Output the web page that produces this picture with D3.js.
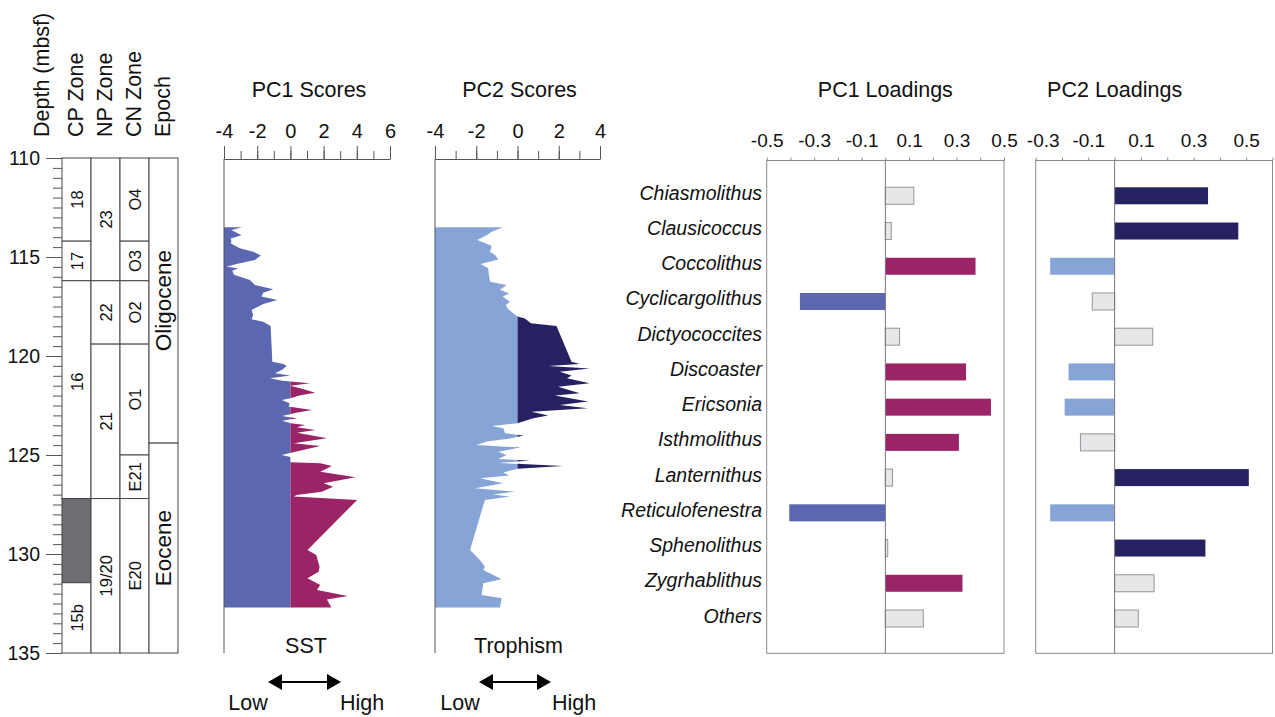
<!DOCTYPE html>
<html>
<head>
<meta charset="utf-8">
<script src="https://cdn.jsdelivr.net/npm/d3@7"></script>
<style>
  body { margin: 0; background: #fff; }
  svg { font-family: "Liberation Sans", Arial, sans-serif; }
</style>
</head>
<body>
<script>
// ---- data ----
const depthTicks = [110, 115, 120, 125, 130, 135];

// [label, top depth, base depth, (optional label depth)]
const cpZones = [["18", 110, 114.2], ["17", 114.2, 116.2], ["16", 116.2, 127.2, 121.3], ["", 127.2, 131.45], ["15b", 131.45, 135]];
const npZones = [["23", 110, 116.2], ["22", 116.2, 119.4], ["21", 119.4, 127.2], ["19/20", 127.2, 135]];
const cnZones = [["O4", 110, 114.2], ["O3", 114.2, 116.2], ["O2", 116.2, 119.4], ["O1", 119.4, 125], ["E21", 125, 127.2], ["E20", 127.2, 135]];
const epochs = [["Oligocene", 110, 124.4], ["Eocene", 124.4, 135]];
const columnHeaders = ["CP Zone", "NP Zone", "CN Zone", "Epoch"];

// PC1 scores down core
const pc1Depth = [113.5, 113.64, 113.9, 114.06, 114.2, 114.3, 114.56, 114.73, 114.93, 115.15, 115.35, 115.49, 115.57, 115.69, 115.9,
  116.16, 116.41, 116.63, 116.8, 117.0, 117.17, 117.37, 117.68, 117.93, 118.15, 118.27, 118.48, 120.29, 120.4, 120.5,
  120.7, 120.87, 120.99, 121.13, 121.25, 121.38, 121.5, 121.63, 121.85, 121.98, 122.14, 122.22, 122.39, 122.56, 122.73,
  122.87, 123.03, 123.15, 123.27, 123.4, 123.48, 123.6, 123.74, 123.87, 124.16, 124.41, 124.55, 124.83, 125.0, 125.1,
  125.36, 125.42, 125.56, 125.84, 126.13, 126.43, 126.6, 126.85, 127.02, 127.1, 127.27, 129.8, 130.05, 130.64, 130.9,
  131.23, 131.57, 131.82, 132.12, 132.3, 132.7];
const pc1Score = [-2.9, -3.55, -2.95, -3.6, -3.55, -3.6, -3.05, -2.24, -1.78, -2.14, -3.25, -3.85, -3.15, -3.5, -3.4,
  -2.44, -2.14, -1.03, -1.64, -1.74, -0.79, -1.64, -2.34, -2.24, -2.34, -1.64, -1.19, -1.09, -0.42, -0.22,
  -0.5, -0.93, 0, -1.23, -0.5, 1.19, 0, 0.59, 1.5, 0.6, 0, -0.52, -0.05, -0.1, 1.3,
  0.35, -0.5, 0.4, -0.5, 0.03, 0.89, 0.4, 1.5, 0.4, 2.2, 0.2, 1.8, 0.3, -0.52, 0,
  0, 1.8, 2.5, 1.8, 3.92, 2.0, 2.57, 1.9, 0.38, 0.2, 4.02, 1.03, 1.56, 1.76, 1.7,
  1.03, 1.8, 1.6, 3.45, 2.2, 2.47];

// PC2 scores down core
const pc2Depth = [113.5, 113.72, 113.9, 114.14, 114.43, 114.73, 114.9, 115.12, 115.35, 115.57, 115.8, 116.25, 116.41, 116.66, 116.84,
  117.0, 117.26, 117.43, 117.6, 117.85, 118.01, 118.1, 118.35, 118.48, 120.29, 120.4, 120.5, 120.63, 120.8, 120.98,
  121.13, 121.38, 121.55, 121.88, 122.0, 122.3, 122.47, 122.64, 122.81, 123.0, 123.15, 123.4, 123.53, 123.65, 123.9,
  124.02, 124.16, 124.32, 124.5, 124.62, 124.84, 125.0, 125.2, 125.28, 125.4, 125.56, 125.7, 125.88, 126.04, 126.18,
  126.43, 126.68, 126.85, 127.0, 127.1, 127.27, 129.8, 130.3, 130.64, 130.81, 131.28, 131.48, 132.07, 132.24, 132.7];
const pc2Score = [-0.72, -1.25, -1.5, -1.95, -1.25, -1.33, -1.09, -0.93, -1.79, -1.42, -1.4, -1.33, -0.53, -0.85, -0.4,
  -0.72, -0.37, -0.56, -0.48, -0.2, 0, 0.36, 0.65, 1.89, 2.62, 3.02, 1.49, 3.5, 2.05, 2.62,
  2.4, 3.5, 1.97, 3.02, 1.81, 3.42, 2.05, 3.42, 0.68, 1.49, 0.76, 0, -1.25, -0.69, -0.6,
  0.28, -0.29, -1.5, -1.98, 0.12, -0.93, -0.53, -0.93, 0.6, -0.93, 2.21, 0, -0.69, -0.4, -1.82,
  -0.69, -2.06, -0.13, -1.18, -0.37, -1.58, -2.3, -1.82, -1.58, -1.66, -0.77, -1.66, -1.74, -0.77, -0.85];

// loadings
const taxa = ["Chiasmolithus", "Clausicoccus", "Coccolithus", "Cyclicargolithus", "Dictyococcites", "Discoaster", "Ericsonia",
  "Isthmolithus", "Lanternithus", "Reticulofenestra", "Sphenolithus", "Zygrhablithus", "Others"];
const pc1Loadings = [0.12, 0.025, 0.38, -0.36, 0.06, 0.34, 0.445, 0.31, 0.03, -0.405, 0.01, 0.325, 0.16];
const pc1Groups = ["minor", "minor", "warm", "cold", "minor", "warm", "warm", "warm", "minor", "cold", "minor", "warm", "minor"];
const pc2Loadings = [0.355, 0.47, -0.245, -0.085, 0.145, -0.175, -0.19, -0.13, 0.51, -0.245, 0.345, 0.15, 0.09];
const pc2Groups = ["eutrophic", "eutrophic", "oligotrophic", "minor", "minor", "oligotrophic", "oligotrophic", "minor", "eutrophic", "oligotrophic", "eutrophic", "minor", "minor"];

const pc1Ticks = [-4, -2, 0, 2, 4, 6];
const pc2Ticks = [-4, -2, 0, 2, 4];
const pcl1Ticks = [-0.5, -0.3, -0.1, 0.1, 0.3, 0.5];
const pcl2Ticks = [-0.3, -0.1, 0.1, 0.3, 0.5];

// ---- colours ----
const colors = {
  cold: "#5b67b0", warm: "#9b2467", oligotrophic: "#87a4d6", eutrophic: "#262262", minor: "#e6e7e8"
};
const lineCol = "#555";

const svg = d3.select("body").append("svg")
  .attr("width", 1275).attr("height", 717);

// depth scale shared by the strat column and the score panels
const y = d3.scaleLinear().domain([110, 135]).range([158, 653]);

/* ---------- stratigraphic columns ---------- */
const colX = [62, 91, 120, 149, 178];

svg.append("g")
  .attr("transform", "translate(62,0)")
  .call(d3.axisLeft(y).tickValues(d3.range(110, 135.01, 0.5)).tickSize(9).tickFormat(""))
  .call(g => g.select(".domain").remove())
  .call(g => g.selectAll("line").attr("stroke", lineCol));

svg.append("g")
  .attr("transform", "translate(62,0)")
  .call(d3.axisLeft(y).tickValues(depthTicks).tickSize(16).tickPadding(6).tickFormat(d => d))
  .call(g => g.select(".domain").remove())
  .call(g => g.selectAll("line").attr("stroke", lineCol))
  .call(g => g.selectAll("text").attr("font-size", 19.5).attr("fill", "#111").attr("font-family", "Liberation Sans, Arial, sans-serif"));

function drawColumn(zones, i, fontSize) {
  const g = svg.append("g");
  const cells = g.selectAll("g").data(zones).enter().append("g");
  cells.append("rect")
    .attr("x", colX[i]).attr("width", colX[i + 1] - colX[i])
    .attr("y", d => y(d[1])).attr("height", d => y(d[2]) - y(d[1]))
    .attr("fill", d => d[0] === "" ? "#6d6e71" : "#fff")
    .attr("stroke", "#444").attr("stroke-width", 1);
  cells.append("text")
    .attr("transform", d => {
      const cy = y(d[3] !== undefined ? d[3] : (d[1] + d[2]) / 2);
      return "translate(" + ((colX[i] + colX[i + 1]) / 2) + "," + cy + ") rotate(-90)";
    })
    .attr("text-anchor", "middle")
    .attr("dominant-baseline", "central")
    .attr("font-size", fontSize)
    .attr("fill", "#111")
    .text(d => d[0]);
}
drawColumn(cpZones, 0, 16.5);
drawColumn(npZones, 1, 16.5);
drawColumn(cnZones, 2, 16.5);
drawColumn(epochs, 3, 22.5);

// column headers
const headers = ["Depth (mbsf)"].concat(columnHeaders);
const headerX = [42, 76, 105, 134, 163];
svg.selectAll(".hdr").data(headers).enter().append("text")
  .attr("class", "hdr")
  .attr("transform", (d, i) => "translate(" + headerX[i] + ",137) rotate(-90)")
  .attr("dominant-baseline", "central")
  .attr("font-size", 21.5)
  .attr("fill", "#111")
  .text(d => d);

/* ---------- score panels ---------- */
function scorePanel(opts) {
  const x = d3.scaleLinear().domain(opts.domain).range(opts.range);
  const g = svg.append("g");
  const id = opts.id;

  const pts = opts.depth.map((d, i) => [d, opts.score[i]]);
  const area = d3.area()
    .y(d => y(d[0]))
    .x0(x(opts.domain[0]))
    .x1(d => x(d[1]));

  const defs = g.append("defs");
  defs.append("clipPath").attr("id", id + "neg").append("rect")
    .attr("x", x(opts.domain[0])).attr("y", 0).attr("width", x(0) - x(opts.domain[0])).attr("height", 717);
  defs.append("clipPath").attr("id", id + "pos").append("rect")
    .attr("x", x(0)).attr("y", 0).attr("width", 400).attr("height", 717);

  g.append("path").datum(pts).attr("d", area)
    .attr("fill", opts.neg).attr("clip-path", "url(#" + id + "neg)");
  g.append("path").datum(pts).attr("d", area)
    .attr("fill", opts.pos).attr("clip-path", "url(#" + id + "pos)");

  // axes
  g.append("g").attr("transform", "translate(0,159)")
    .call(d3.axisTop(x).tickValues(d3.range(opts.domain[0], opts.domain[1] + 0.1, 1)).tickSize(8).tickFormat("").tickSizeOuter(0))
    .call(a => a.select(".domain").remove())
    .call(a => a.selectAll("line").attr("stroke", lineCol));
  g.append("g").attr("transform", "translate(0,159)")
    .call(d3.axisTop(x).tickValues(opts.ticks).tickSize(13).tickSizeOuter(0).tickPadding(8).tickFormat(d => String(d)))
    .call(a => a.select(".domain").attr("stroke", lineCol))
    .call(a => a.selectAll("line").attr("stroke", lineCol))
    .call(a => a.selectAll("text").attr("font-size", 20).attr("fill", "#111").attr("font-family", "Liberation Sans, Arial, sans-serif"));

  g.append("line")
    .attr("x1", x(opts.domain[0])).attr("x2", x(opts.domain[0]))
    .attr("y1", 159).attr("y2", 653)
    .attr("stroke", lineCol);

  const cx = (opts.range[0] + opts.range[1]) / 2;
  g.append("text").attr("x", cx + opts.titleDx).attr("y", 97)
    .attr("text-anchor", "middle").attr("font-size", 21.5).attr("fill", "#111").text(opts.title);
  g.append("text").attr("x", cx + opts.labelDx).attr("y", 653)
    .attr("text-anchor", "middle").attr("font-size", 21.5).attr("fill", "#111").text(opts.label);

  // low / high arrow
  const ay = 682, ax0 = opts.arrow[0], ax1 = opts.arrow[1];
  g.append("line").attr("x1", ax0 + 10).attr("x2", ax1 - 10).attr("y1", ay).attr("y2", ay)
    .attr("stroke", "#000").attr("stroke-width", 2);
  g.append("path").attr("d", "M" + ax0 + "," + ay + "l14,-8v16z").attr("fill", "#000");
  g.append("path").attr("d", "M" + ax1 + "," + ay + "l-14,-8v16z").attr("fill", "#000");
  g.append("text").attr("x", opts.lowHigh[0]).attr("y", 710)
    .attr("text-anchor", "middle").attr("font-size", 21.5).attr("fill", "#111").text("Low");
  g.append("text").attr("x", opts.lowHigh[1]).attr("y", 710)
    .attr("text-anchor", "middle").attr("font-size", 21.5).attr("fill", "#111").text("High");
}

scorePanel({
  id: "pc1", domain: [-4, 6], range: [224, 390], ticks: pc1Ticks,
  depth: pc1Depth, score: pc1Score, neg: colors.cold, pos: colors.warm,
  title: "PC1 Scores", titleDx: 2, label: "SST", labelDx: -1,
  arrow: [268, 341], lowHigh: [248, 362]
});
scorePanel({
  id: "pc2", domain: [-4, 4], range: [435, 600], ticks: pc2Ticks,
  depth: pc2Depth, score: pc2Score, neg: colors.oligotrophic, pos: colors.eutrophic,
  title: "PC2 Scores", titleDx: 2, label: "Trophism", labelDx: 1,
  arrow: [479, 551], lowHigh: [460, 574]
});

/* ---------- loadings panels ---------- */
const frameTop = 160.5, frameBottom = 653.3;
const yb = d3.scalePoint().domain(taxa).range([195.8, 618.5]);
const barH = 17;

function loadingPanel(opts) {
  const x = d3.scaleLinear().domain(opts.domain).range(opts.range);
  const g = svg.append("g");

  g.append("rect")
    .attr("x", opts.range[0]).attr("y", frameTop)
    .attr("width", opts.range[1] - opts.range[0]).attr("height", frameBottom - frameTop)
    .attr("fill", "none").attr("stroke", "#8a8a8a");

  g.append("g").attr("transform", "translate(0," + frameTop + ")")
    .call(d3.axisTop(x).tickValues(d3.range(Math.round(opts.domain[0] * 10), Math.round(opts.domain[1] * 10) + 1).map(v => v / 10))
      .tickSize(3).tickSizeOuter(0).tickFormat(""))
    .call(a => a.select(".domain").remove())
    .call(a => a.selectAll("line").attr("stroke", "#8a8a8a"));

  g.append("g").attr("transform", "translate(0," + frameTop + ")")
    .call(d3.axisTop(x).tickValues(opts.ticks).tickSize(0).tickPadding(14).tickFormat(d => d.toFixed(1)))
    .call(a => a.select(".domain").remove())
    .call(a => a.selectAll("text")
      .attr("dx", (d, i) => i === 0 ? opts.firstDx : 0)
      .attr("font-size", 19).attr("fill", "#111").attr("font-family", "Liberation Sans, Arial, sans-serif"));

  g.selectAll(".bar").data(taxa).enter().append("rect")
    .attr("class", "bar")
    .attr("x", (d, i) => Math.min(x(0), x(opts.values[i])))
    .attr("width", (d, i) => Math.abs(x(opts.values[i]) - x(0)))
    .attr("y", d => yb(d) - barH / 2)
    .attr("height", barH)
    .attr("fill", (d, i) => colors[opts.groups[i]])
    .attr("stroke", (d, i) => opts.groups[i] === "minor" ? "#939598" : "none")
    .attr("stroke-width", 1);

  g.append("line")
    .attr("x1", x(0)).attr("x2", x(0)).attr("y1", frameTop).attr("y2", frameBottom)
    .attr("stroke", "#777");

  g.append("text").attr("x", x(0)).attr("y", 97)
    .attr("text-anchor", "middle").attr("font-size", 21.5).attr("fill", "#111").text(opts.title);
}

loadingPanel({ domain: [-0.5, 0.5], range: [766.7, 1004], ticks: pcl1Ticks, values: pc1Loadings, groups: pc1Groups, title: "PC1 Loadings", firstDx: 0 });
loadingPanel({ domain: [-0.3, 0.6], range: [1035.7, 1272.5], ticks: pcl2Ticks, values: pc2Loadings, groups: pc2Groups, title: "PC2 Loadings", firstDx: 7 });

// taxon names
svg.selectAll(".taxon").data(taxa).enter().append("text")
  .attr("class", "taxon")
  .attr("x", 762).attr("y", d => yb(d) - 3)
  .attr("text-anchor", "end")
  .attr("dominant-baseline", "central")
  .attr("font-style", "italic")
  .attr("font-size", 19.5)
  .attr("fill", "#111")
  .text(d => d);
</script>
</body>
</html>
